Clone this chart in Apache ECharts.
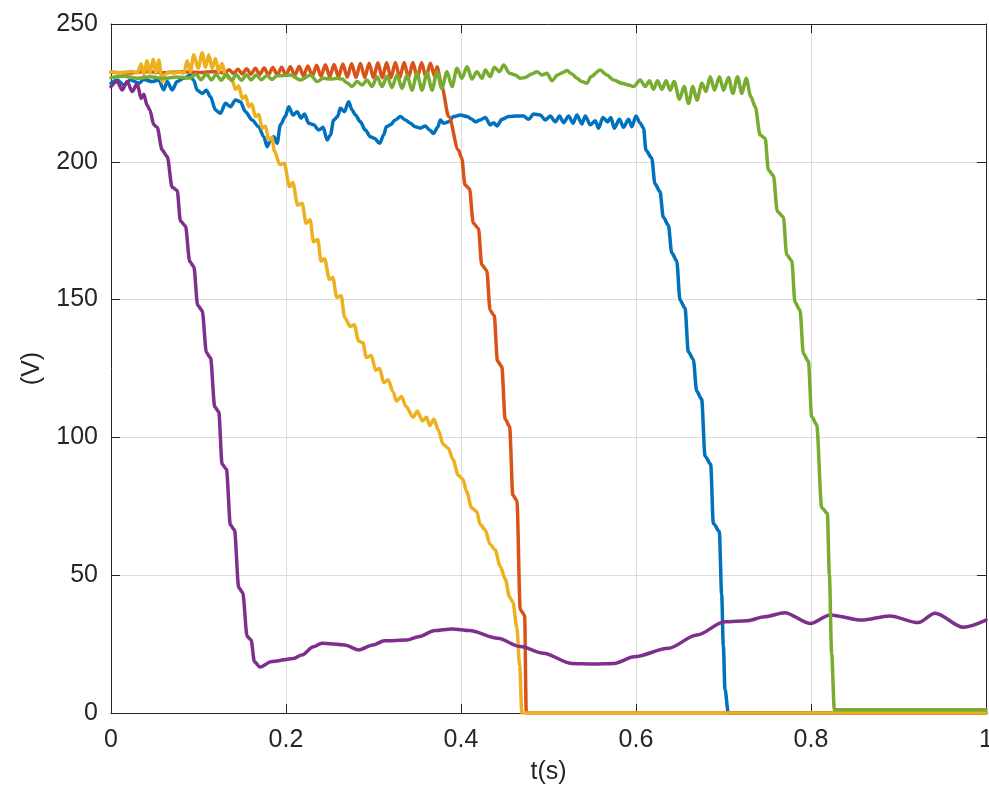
<!DOCTYPE html>
<html>
<head>
<meta charset="utf-8">
<script src="https://cdn.jsdelivr.net/npm/echarts@6/dist/echarts.min.js"></script>
<style>
  html, body { margin: 0; padding: 0; background: #fff; }
  #main { width: 989px; height: 803px; }
</style>
</head>
<body>
<div id="main"></div>
<script>
// axis ticks
var xTicks = [0, 0.2, 0.4, 0.6, 0.8, 1];
var yTicks = [0, 50, 100, 150, 200, 250];

// [t(s), V]
var blueData = [
  [0,228.5],[0.0071,229.7],[0.0147,227.9],[0.0223,229.7],[0.0318,228.5],[0.0375,229.9],[0.047,229.1],
  [0.0546,229.7],[0.0603,226.1],[0.0642,229.1],[0.0699,226.1],[0.0756,229.1],[0.0832,230.3],[0.0908,231.5],
  [0.0946,229.5],[0.0985,226],[0.1042,224.8],[0.109,226],[0.1137,223.6],[0.1194,218.8],[0.125,217.6],
  [0.1308,221.2],[0.1365,220],[0.1422,222.4],[0.1479,221.8],[0.1536,218.2],[0.1613,215.2],[0.1688,212.7],
  [0.1745,209.1],[0.1784,205.5],[0.1822,207.9],[0.186,209.1],[0.1898,206.7],[0.1936,213.4],[0.1993,216.5],
  [0.2031,220],[0.2081,217],[0.2127,218.2],[0.2172,215.8],[0.221,217.3],[0.226,214],[0.2316,213.4],
  [0.2374,211.5],[0.2424,212.5],[0.247,207.9],[0.2507,209.7],[0.2545,215.2],[0.259,216.4],[0.2621,219.4],
  [0.2667,218.2],[0.2716,221.8],[0.2755,218.8],[0.2793,217],[0.285,214.5],[0.2907,211.5],[0.2964,209.1],
  [0.301,208.5],[0.307,206.7],[0.3116,209.7],[0.3147,212.7],[0.3192,213.4],[0.325,215.2],[0.3307,216.4],
  [0.3364,215.2],[0.342,214],[0.3478,212.7],[0.3535,212.2],[0.3592,213],[0.3641,211.5],[0.3687,210.3],
  [0.3733,212.5],[0.3764,215.2],[0.38,214],[0.3858,214.5],[0.3916,216.4],[0.3992,217],[0.4069,216.4],
  [0.4126,215.4],[0.4163,214.5],[0.422,215.2],[0.4278,216.1],[0.4335,213.4],[0.4372,214.2],[0.441,213],
  [0.4468,215.4],[0.4544,216.4],[0.464,216.6],[0.4715,216.6],[0.4772,215.4],[0.483,217.3],[0.4906,217],
  [0.4963,215.2],[0.502,216.6],[0.5077,214.5],[0.5126,216.6],[0.5172,214.2],[0.523,216.6],[0.528,214],
  [0.5325,217],[0.5382,213.7],[0.542,216.6],[0.5477,213.4],[0.5534,214.9],[0.5572,212.2],[0.5622,216.1],
  [0.5675,214.5],[0.5713,216.1],[0.5751,212.2],[0.5812,215.4],[0.5857,212.5],[0.5915,215.4],[0.5953,212.7],
  [0.5999,216.6],[0.6048,214],[0.6086,212.2],[0.6114,204.2],[0.6179,201.4],[0.6217,192],[0.6274,189.2],
  [0.6312,179.9],[0.637,177],[0.6408,167],[0.6465,164.1],[0.6503,149.8],[0.656,146.9],[0.6598,131.1],
  [0.6655,128.3],[0.6693,116.8],[0.675,113.9],[0.6789,93.2],[0.6853,90.3],[0.6884,68.8],[0.6952,65.9],
  [0.6979,43],[0.6998,24.4],[0.7017,8.6],[0.7055,0],[1,0]
];

var orangeData = [
  [0,232.5],[0.02,232.2],[0.04,232.8],[0.06,232.3],[0.08,232.7],[0.1,232.4],[0.12,232.8],[0.13,232.2],
  [0.135,233.4],[0.14,232],[0.145,233.6],[0.15,231.9],[0.155,233.8],[0.16,231.8],[0.165,233.9],[0.17,231.7],
  [0.175,234],[0.18,231.6],[0.185,234.2],[0.19,231.5],[0.195,234.3],[0.2,231.4],[0.205,234.5],[0.21,231.3],
  [0.215,234.6],[0.22,231.2],[0.225,234.8],[0.23,231.1],[0.235,235],[0.24,231],[0.245,235.2],[0.25,230.9],
  [0.255,235.3],[0.26,230.8],[0.265,235.5],[0.27,230.7],[0.275,235.6],[0.28,230.6],[0.285,235.7],[0.29,230.6],
  [0.295,235.8],[0.3,230.5],[0.305,235.9],[0.31,230.5],[0.315,235.9],[0.32,230.5],[0.325,236],[0.33,230.5],
  [0.335,236],[0.34,230.5],[0.345,236],[0.35,230.5],[0.355,235.9],[0.36,230.6],[0.365,235.8],[0.37,231],
  [0.3726,234.5],[0.378,227.3],[0.386,216.4],[0.397,204.3],[0.4008,201.4],[0.4046,191.6],[0.4096,190.3],
  [0.4141,177.7],[0.4199,175.8],[0.4237,162.6],[0.4294,160.6],[0.4333,146.1],[0.4379,144.2],[0.4417,127.7],
  [0.4466,125.7],[0.4505,106.6],[0.4555,104],[0.4593,79],[0.4639,77],[0.4677,37.5],[0.4727,35.5],
  [0.4746,0],[1,0]
];

var yellowData = [
  [0,232.7],[0.008,232.3],[0.016,232.5],[0.024,232.8],[0.03,232.2],[0.0345,235.5],[0.0375,231.5],
  [0.0413,236.7],[0.0444,232.1],[0.0482,237.2],[0.0516,232.1],[0.0546,236.9],[0.0585,229.1],[0.062,231.8],
  [0.066,232.7],[0.0718,232.1],[0.0775,232.7],[0.0832,232.1],[0.087,236.7],[0.0908,232.7],[0.0946,238.8],
  [0.0996,233.9],[0.1042,239.6],[0.1079,234.3],[0.1117,238.8],[0.1156,233.9],[0.1194,237.5],[0.1231,232.7],
  [0.127,235.7],[0.1308,231.5],[0.1346,230.3],[0.1384,229.7],[0.1422,226.3],[0.146,227.5],[0.15,223],
  [0.154,224],[0.1574,220],[0.161,221],[0.165,216.4],[0.169,217.2],[0.1727,212.2],[0.1765,213],
  [0.1803,207.9],[0.184,208.8],[0.1866,204],[0.193,199],[0.198,199.5],[0.204,191],[0.2077,192.5],
  [0.2134,184.3],[0.2184,185],[0.223,177.7],[0.2275,179],[0.2314,171],[0.2363,171.8],[0.24,164],
  [0.244,164.8],[0.2497,157.3],[0.2535,158],[0.258,150.8],[0.263,151.4],[0.267,143.5],[0.2734,140.2],
  [0.278,140.9],[0.283,135],[0.288,134.3],[0.2918,129],[0.2975,129.7],[0.3025,124.4],[0.307,125],
  [0.3117,119.8],[0.3166,120.9],[0.3224,116.5],[0.3262,113.2],[0.332,114.8],[0.337,111.3],[0.3453,107.3],
  [0.35,109.5],[0.356,106],[0.3606,107.3],[0.3644,104.3],[0.369,106.6],[0.374,102.7],[0.3797,97.4],
  [0.3855,96.1],[0.3905,92.2],[0.397,86.2],[0.402,84.9],[0.4065,80.3],[0.4122,74.4],[0.418,73.1],
  [0.4218,68.5],[0.4275,66.5],[0.4333,61.2],[0.439,59.2],[0.4447,53.3],[0.4505,48.7],[0.4555,42.1],
  [0.4593,40.2],[0.4639,30.9],[0.467,17.1],[0.4696,0],[1,0]
];

var purpleData = [
  [0,227.3],[0.0071,229.1],[0.0128,226.1],[0.0185,229.1],[0.0242,225.5],[0.0299,228.3],[0.0345,223],
  [0.0375,224.5],[0.0413,220.5],[0.0444,218.8],[0.0489,213.4],[0.0527,212.5],[0.0585,204.3],[0.0642,201.9],
  [0.0699,190.8],[0.0756,189.6],[0.0794,178.5],[0.0851,176.7],[0.09,163.8],[0.0946,162],[0.0991,147.9],
  [0.1042,146],[0.1091,130.7],[0.1137,128.9],[0.1186,111.1],[0.1231,109.3],[0.127,90.3],[0.1319,88.4],
  [0.1365,68.2],[0.1411,66.4],[0.146,45.5],[0.1505,43.7],[0.1556,27.8],[0.1601,26.5],[0.1639,18.6],
  [0.17,16.7],[0.1717,16.8],[0.1826,18.6],[0.2086,19.8],[0.218,21],[0.2313,24],[0.241,25.3],[0.267,24.7],
  [0.283,22.9],[0.2994,24.7],[0.3124,26.2],[0.3383,26.5],[0.3512,27.7],[0.3706,29.9],[0.39,30.5],
  [0.4095,29.9],[0.442,27.1],[0.468,24.1],[0.494,21.7],[0.5263,18],[0.5523,17.8],[0.575,18],[0.598,20.4],
  [0.637,23.5],[0.6695,28.3],[0.7015,33.1],[0.727,33.5],[0.747,34.9],[0.77,36.4],[0.799,32.5],[0.822,35.6],
  [0.8577,33.7],[0.89,35.2],[0.9226,32.8],[0.9418,36.2],[0.974,31.1],[1,33.7]
];

var greenData = [
  [0,230.5],[0.015,231],[0.03,230.3],[0.045,230.9],[0.06,230.2],[0.075,230.8],[0.09,230.4],[0.097,231.8],
  [0.103,229.8],[0.109,231.9],[0.115,229.7],[0.12,231.8],[0.126,229.6],[0.132,231.8],[0.138,229.5],
  [0.143,231.7],[0.149,229.6],[0.155,231.6],[0.16,229.7],[0.166,231.5],[0.172,229.8],[0.178,231.3],
  [0.184,229.9],[0.19,231.2],[0.205,231.5],[0.2164,229.7],[0.228,231.5],[0.2355,229.1],[0.243,230.3],
  [0.2507,230],[0.2584,230.3],[0.264,230],[0.2698,228.7],[0.2755,227.3],[0.2812,229.1],[0.287,227.9],
  [0.2926,229.7],[0.2983,227.3],[0.304,230.9],[0.3098,227.3],[0.3155,231.1],[0.321,227],[0.327,231.5],
  [0.3326,226.6],[0.3383,231.5],[0.344,226],[0.3497,232.1],[0.3555,226],[0.3612,232.3],[0.3669,226],
  [0.3726,232.7],[0.378,226.6],[0.384,232.7],[0.3897,227.3],[0.3954,233.9],[0.4011,230.3],[0.4069,234.5],
  [0.4126,230],[0.418,232.7],[0.424,230.3],[0.4278,233.3],[0.4335,230.9],[0.438,234.3],[0.444,232.7],
  [0.4487,235.1],[0.4555,232.1],[0.462,231.5],[0.4677,230.3],[0.4735,230.6],[0.481,231.9],[0.4868,232.7],
  [0.4925,231.5],[0.4982,232.1],[0.504,229.4],[0.5104,231.5],[0.5160,232.3],[0.521,233.1],[0.5268,231.9],
  [0.5325,230.3],[0.538,229.1],[0.544,228.5],[0.5485,230.9],[0.559,233.3],[0.5668,231.5],[0.5743,229.7],
  [0.5839,228.5],[0.5915,227.9],[0.5972,227.3],[0.6048,229.7],[0.6105,227.3],[0.6154,229.4],[0.62,226.3],
  [0.6246,229.4],[0.6296,226.3],[0.6345,229.4],[0.639,226],[0.6436,229.1],[0.6497,222.7],[0.655,227.3],
  [0.66,221.2],[0.665,227.3],[0.6696,222.4],[0.6753,228.5],[0.68,225.5],[0.6848,230.9],[0.6897,226],
  [0.6954,230.9],[0.7,226],[0.7057,230.6],[0.7107,224.8],[0.716,230.9],[0.721,224.8],[0.7259,230.3],
  [0.7313,223.6],[0.7362,220],[0.7419,209.7],[0.7476,208.5],[0.7513,197],[0.757,195],[0.7615,182],
  [0.7684,180],[0.7722,166.3],[0.778,164.1],[0.7817,149],[0.7874,146.2],[0.7913,130.4],[0.797,127.6],
  [0.8008,107.5],[0.8065,104.6],[0.8122,74.5],[0.8187,72.4],[0.821,50.2],[0.8236,21.5],[0.8267,1.2],[1,1.2]
];

var seriesNames = ['blue', 'orange', 'yellow', 'purple', 'green'];
var seriesColors = ['#0072BD', '#D95319', '#EDB120', '#7E2F8E', '#77AC30'];
var seriesData = [blueData, orangeData, yellowData, purpleData, greenData];

var axisColor = '#262626';
var fontFam = '"Liberation Sans", Arial, Helvetica, sans-serif';

var chart = echarts.init(document.getElementById('main'), null, {renderer: 'canvas'});

var series = [];
for (var i = 0; i < seriesData.length; i++) {
  series.push({
    name: seriesNames[i],
    type: 'line',
    xAxisIndex: 0,
    yAxisIndex: 0,
    data: seriesData[i],
    showSymbol: false,
    symbol: 'none',
    smooth: 0.3,          // soften the ripple a bit, matlab trace looks rounded
    smoothMonotone: 'x',
    clip: true,
    lineStyle: {color: seriesColors[i], width: 3.5, join: 'round', cap: 'round'},
    itemStyle: {color: seriesColors[i]},
    z: 10 + i
  });
}

// main axes + mirrored box axes (top / right), ticks pointing in like matlab
function xAx(pos, main) {
  return {
    type: 'value', position: pos, min: xTicks[0], max: xTicks[xTicks.length - 1], interval: 0.2,
    name: main ? 't(s)' : '', nameLocation: 'middle', nameGap: 47,
    nameTextStyle: {color: axisColor, fontSize: 25, fontFamily: fontFam},
    axisLine: {show: true, onZero: false, lineStyle: {color: axisColor, width: 1}},
    axisTick: {show: true, inside: true, length: 9, lineStyle: {color: axisColor, width: 1}},
    axisLabel: {show: main, color: axisColor, fontSize: 25, fontFamily: fontFam, margin: 15},
    splitLine: {show: main, lineStyle: {color: '#dcdcdc', width: 1}}
  };
}
function yAx(pos, main) {
  return {
    type: 'value', position: pos, min: yTicks[0], max: yTicks[yTicks.length - 1], interval: 50,
    name: main ? '(V)' : '', nameLocation: 'middle', nameGap: 66,
    nameTextStyle: {color: axisColor, fontSize: 25, fontFamily: fontFam},
    axisLine: {show: true, onZero: false, lineStyle: {color: axisColor, width: 1}},
    axisTick: {show: true, inside: true, length: 9, lineStyle: {color: axisColor, width: 1}},
    axisLabel: {show: main, color: axisColor, fontSize: 25, fontFamily: fontFam, margin: 13},
    splitLine: {show: main, lineStyle: {color: '#dcdcdc', width: 1}}
  };
}

chart.setOption({
  animation: false,
  backgroundColor: '#ffffff',
  grid: {left: 111, right: 3, top: 24, bottom: 90, containLabel: false, outerBoundsMode: 'none'},
  xAxis: [xAx('bottom', true), xAx('top', false)],
  yAxis: [yAx('left', true), yAx('right', false)],
  series: series
});
</script>
</body>
</html>
